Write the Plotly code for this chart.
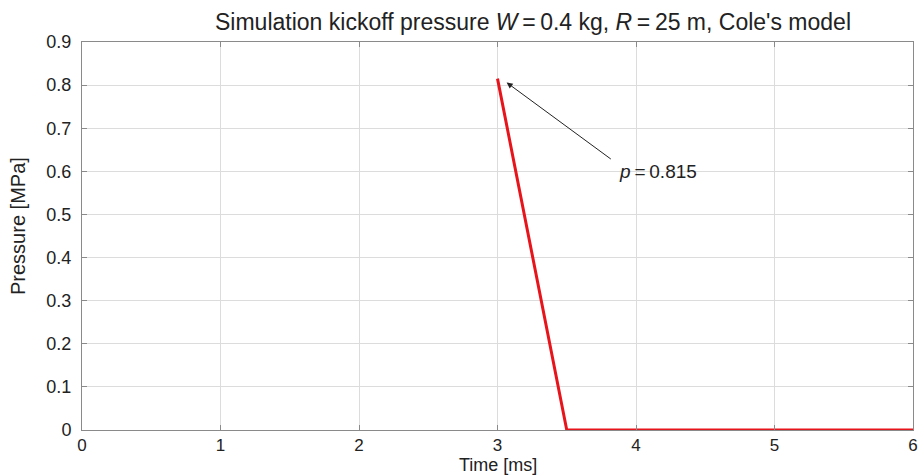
import plotly.graph_objects as go

time_ms = [3.0, 3.5, 6.0]
pressure_mpa = [0.815, 0.0, 0.0]
x_ticks = [0, 1, 2, 3, 4, 5, 6]
y_ticks = [0, 0.1, 0.2, 0.3, 0.4, 0.5, 0.6, 0.7, 0.8, 0.9]
peak_label = "<i>p</i>\u2009=\u20090.815"
title_text = ("Simulation kickoff pressure <i>W</i>\u2009=\u20090.4 kg, "
              "<i>R</i>\u2009=\u200925 m, Cole's model")

FONT = "Liberation Sans, Arial, sans-serif"
TXT = "#222222"

fig = go.Figure()
fig.add_trace(go.Scatter(x=time_ms, y=pressure_mpa, mode="lines",
                         line=dict(color="#e8141b", width=3), showlegend=False))

axis_common = dict(showline=True, linecolor="#8a8a8a", linewidth=1, mirror="ticks",
                   ticks="inside", ticklen=5, tickcolor="#8a8a8a",
                   showgrid=True, gridcolor="#dcdcdc", gridwidth=1, zeroline=False,
                   automargin=False, ticklabeloverflow="allow")

fig.update_xaxes(range=[0, 6], tickvals=x_ticks, ticktext=[str(v) for v in x_ticks],
                 tickfont=dict(family=FONT, size=17, color=TXT), **axis_common)
fig.update_yaxes(range=[0, 0.9], tickvals=y_ticks,
                 ticktext=["0" if v == 0 else f"{v:.1f}" for v in y_ticks],
                 tickfont=dict(family=FONT, size=18, color=TXT),
                 ticklabelstandoff=6, **axis_common)

# arrow (tail -> head) in data coordinates
fig.add_annotation(x=3.066, y=0.806, ax=3.829, ay=0.626, axref="x", ayref="y",
                   xref="x", yref="y", text="", showarrow=True,
                   arrowhead=2, arrowsize=1.2, arrowwidth=1, arrowcolor=TXT)
fig.add_annotation(x=3.86, y=0.599, xref="x", yref="y", text=peak_label,
                   showarrow=False, xanchor="left", yanchor="middle",
                   font=dict(family=FONT, size=19, color=TXT))

# title and axis titles
fig.add_annotation(x=0.5427, y=1.0515, xref="paper", yref="paper", text=title_text,
                   showarrow=False, xanchor="center", yanchor="middle",
                   font=dict(family=FONT, size=23, color=TXT))
fig.add_annotation(x=0.5, y=-0.0902, xref="paper", yref="paper", text="Time [ms]",
                   showarrow=False, xanchor="center", yanchor="middle",
                   font=dict(family=FONT, size=18, color=TXT))
fig.add_annotation(x=-0.077, y=0.5258, xref="paper", yref="paper", text="Pressure [MPa]",
                   showarrow=False, xanchor="center", yanchor="middle", textangle=-90,
                   font=dict(family=FONT, size=20, color=TXT))

fig.update_layout(
    width=919, height=475,
    margin=dict(l=82, r=6, t=42, b=45),
    paper_bgcolor="white", plot_bgcolor="white",
)

fig.write_html("out.html", config={"displayModeBar": False},
               post_script="document.body.style.margin='0px';document.body.style.overflow='hidden';")
